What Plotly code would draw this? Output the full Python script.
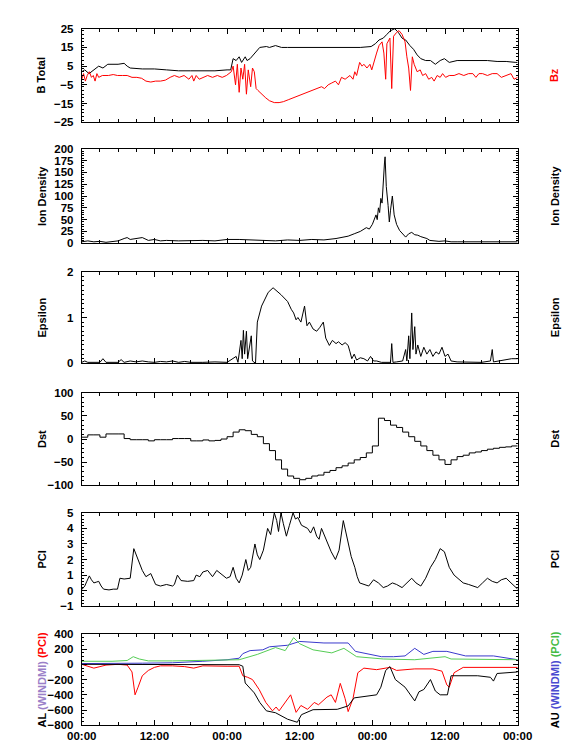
import plotly.graph_objects as go
import pandas as pd

START = pd.Timestamp("2000-01-01 00:00")
END = START + pd.Timedelta(hours=72)

# ---------------- Panel 1: B Total (black) and Bz (red) ----------------
bt_hours = [0, 0.5, 1.2, 2, 2.8, 3.5, 4.3, 6, 7, 7.5, 8, 10, 12, 14, 16, 18, 20, 22, 24, 24.6,
            25, 25.5, 26, 26.4, 27, 27.3, 27.8, 28.3, 28.8, 29.4, 30.5, 31, 32, 33, 34, 37, 42, 46,
            47.8, 48.5, 49.1, 49.8, 50.4, 51, 51.7, 52.3, 52.9, 53.5, 54.2, 54.8, 55.4, 56, 56.8,
            57.6, 58.4, 59.2, 59.9, 60.7, 62, 63.7, 65.4, 67, 68.6, 70.1, 71.7, 72]
bt_vals = [2, 3, 1, 3, 5, 4, 6, 6, 6.5, 5, 4, 3.5, 3.5, 3, 2.5, 2.5, 2.5, 2.5, 3, 3,
           9, 8, 10, 7, 10, 8, 9, 11, 13, 15, 15.5, 15, 16, 15, 15, 15, 15, 15,
           15.5, 17, 19, 20, 22, 24, 25, 23, 20, 19, 16, 14, 11, 9, 8,
           8, 6, 8, 9, 7, 8, 8, 8, 8, 7.5, 7.5, 7, 7]

bz_hours = [0, 0.3, 0.6, 0.9, 1.25, 1.6, 1.9, 2.2, 2.5, 2.8, 3.4, 4.4, 5.2, 5.9, 6.7, 7.5, 8.3,
            9.1, 9.9, 10.6, 11.4, 12.2, 13, 13.8, 14.6, 15.3, 16.1, 16.9, 17.7, 18.2, 18.5, 18.9,
            19.4, 20, 20.8, 21.6, 22.4, 23.2, 23.9, 24.7, 25, 25.4, 25.7, 26, 26.3, 26.6, 26.9,
            27.2, 27.5, 27.9, 28.2, 28.5, 28.8, 29.1, 29.7, 30.4, 31, 31.8, 32.6, 33.3, 34.1, 34.9,
            35.7, 36.5, 37.3, 38, 38.8, 39.6, 40.1, 40.7, 41.3, 41.9, 42.4, 42.9, 43.5, 44.3, 44.8,
            45.1, 45.4, 45.9, 46.3, 46.6, 47.1, 47.6, 47.9, 48.2, 48.7, 49.1, 49.6, 49.9, 50.2,
            50.4, 50.9, 51.2, 51.5, 52, 52.4, 52.9, 53.4, 53.7, 54, 54.3, 54.6, 54.9, 55.4, 55.9,
            56.3, 56.8, 57.3, 57.8, 58.2, 58.7, 59.2, 59.6, 60.1, 60.7, 61.5, 62.3, 63.1, 63.9,
            64.6, 65.1, 65.6, 66.2, 67, 67.8, 68.6, 69.3, 70.1, 70.9, 71.4, 72]
bz_vals = [-2, 1, -3, 0, 2, -1, 0, -3, 1, -1, 0, 0, 0.5, 0, 0, 0, -1,
           -1, -1.5, -3, -3.5, -3, -3, -2.5, -1, 0, -1, 0, -2, 0, -3, 0,
           -2, -1, 0, -1, 0, -1, 0, 2, 5, -5, 6, -9, 4, -2, 6,
           -10, 3, -6, 4, 2, -7, -8, -10, -12, -13.5, -14.5, -14.5, -14, -13, -12,
           -11, -10, -9, -8, -7, -6, -7, -5, -4, -3, -5, -1, -2, 0, -2,
           2, 0, 7, 5, 6, 4, 6, 3, 7, 12, 16, 18, 12, -2,
           17, 20, -7, 21, 23, 24, 22, 18, 10, 4, -8, 10, 6, 2, 3,
           0, 1, -2, -1, -3, 0, -1, 1, -1, 0, 0, 1, 0, 1,
           1, -1, 1, 1, 0, 1, 1, -1, 0, 1, -2, -1]

# ---------------- Panel 2: Ion Density ----------------
nd_hours = [0, 1, 2, 3, 4, 5, 6, 7, 7.5, 8, 9, 10, 11, 12, 13, 14, 16, 18, 20, 22, 24, 26, 28,
            30, 32, 34, 36, 38, 40, 42, 43, 44, 45, 46, 47, 47.5, 48, 48.6, 48.8, 49, 49.2, 49.4,
            49.6, 49.8, 50, 50.1, 50.3, 50.6, 50.8, 51, 51.3, 51.6, 52, 52.5, 53, 53.5, 54, 54.5,
            55, 55.5, 56, 57, 57.5, 58, 59, 60, 61, 62, 64, 66, 68, 70, 72]
nd_vals = [3, 5, 3, 4, 2, 4, 5, 10, 12, 8, 10, 12, 6, 8, 5, 6, 5, 6, 6, 5, 8, 8, 7,
           6, 5, 7, 6, 8, 7, 10, 12, 15, 20, 25, 33, 30, 40, 60, 50, 75, 65, 95,
           85, 140, 170, 183, 120, 80, 45, 70, 100, 60, 40, 27, 20, 13, 20, 23,
           18, 17, 14, 10, 6, 5, 4, 5, 3, 3, 3, 3, 3, 3, 3]

# ---------------- Panel 3: Epsilon ----------------
ep_hours = [0, 0.5, 1, 2, 3, 3.5, 4, 6, 6.5, 7, 8, 9, 10, 11, 12, 13, 14, 15, 16, 17, 18, 20,
            22, 24, 25.5, 25.8, 26.3, 26.5, 26.7, 26.9, 27.2, 27.4, 28, 28.2, 28.7, 29, 29.7,
            30.8, 31.6, 32.9, 33.5, 34, 34.6, 35, 35.4, 35.7, 36.2, 36.5, 36.8, 37.2, 37.6, 38.2,
            38.8, 39.3, 39.9, 40.3, 40.9, 41.4, 42, 42.4, 43, 43.5, 44, 44.3, 44.6, 45, 45.4, 46,
            46.6, 47.2, 47.7, 48.2, 48.7, 49.5, 50.5, 51, 51.2, 51.4, 52, 53, 53.5, 53.7, 54,
            54.2, 54.5, 54.7, 55, 55.2, 55.5, 56, 56.5, 57, 57.5, 58, 58.5, 59, 59.5, 60, 60.5,
            61, 62, 64, 66, 67.5, 67.8, 68, 69, 70, 71, 72]
ep_vals = [0.02, 0.05, 0.02, 0.02, 0.02, 0.1, 0.02, 0.02, 0.08, 0.02, 0.05, 0.03, 0.05, 0.03,
           0.02, 0.04, 0.03, 0.05, 0.02, 0.04, 0.02, 0.02, 0.03, 0.02, 0.15, 0.02, 0.5, 0.1,
           0.72, 0.2, 0.7, 0.1, 0.6, 0.05, 0.0, 0.9, 1.25, 1.55, 1.65, 1.5, 1.42, 1.35, 1.18,
           1.1, 0.95, 1.0, 0.9, 1.1, 1.25, 0.82, 0.9, 0.75, 0.7, 0.78, 0.9, 0.55, 0.39, 0.5,
           0.43, 0.47, 0.4, 0.45, 0.39, 0.25, 0.1, 0.2, 0.07, 0.12, 0.1, 0.05, 0.15, 0.05, 0.05,
           0.02, 0.02, 0.02, 0.43, 0.02, 0.03, 0.05, 0.3, 0.05, 0.6, 0.1, 1.1, 0.3, 0.8, 0.2,
           0.4, 0.15, 0.35, 0.2, 0.3, 0.15, 0.25, 0.2, 0.35, 0.15, 0.2, 0.05, 0.03, 0.02, 0.02,
           0.05, 0.3, 0.03, 0.05, 0.08, 0.1, 0.1]

# ---------------- Panel 4: Dst (hourly) ----------------
dst_hours = list(range(0, 73))
dst_vals = [4, 9, 9, 4, 11, 11, 11, 1, -1.5, -1.5, -1.5, -4, -1.5, -1.5, -1.5, 1, 1, 1, -4, -4,
            -2, -4, -3, 0, 5, 15, 20, 18, 10, 5, -10, -25, -45, -65, -80, -85, -88, -85, -80,
            -78, -72, -68, -62, -58, -52, -45, -40, -30, -15, 45, 40, 30, 25, 15, 5, -5, -15,
            -25, -35, -45, -55, -45, -38, -35, -30, -28, -25, -22, -20, -18, -17, -15, -15]

# ---------------- Panel 5: PCI ----------------
pci_hours = [0, 0.5, 0.8, 1.25, 1.6, 2, 2.4, 2.8, 3.2, 3.6, 4.5, 5.2, 5.9, 6.3, 7, 8, 8.6, 9, 9.5,
             10, 10.6, 11, 11.4, 12.2, 13, 14, 15, 15.3, 15.8, 16.4, 17.5, 18.5, 18.9, 19.5, 20,
             20.8, 21.6, 22.3, 22.9, 23.9, 24.5, 25, 25.5, 26, 26.5, 27.1, 27.5, 27.9, 28.6, 29,
             29.4, 30, 30.7, 31.2, 31.8, 32.2, 32.5, 32.9, 33.3, 33.8, 34.3, 34.9, 35.3, 35.7,
             36.3, 37.3, 37.8, 38.3, 38.8, 39.2, 39.6, 40.2, 40.7, 41.2, 41.9, 42.5, 43.2, 43.6,
             44, 44.5, 45.1, 45.5, 45.9, 46.6, 47.4, 48.2, 49, 49.8, 50.5, 51.3, 52, 52.9, 53.7,
             54.5, 55.2, 56, 56.8, 57.6, 58.4, 59.2, 59.9, 60.7, 61.5, 62.3, 63, 63.9, 64.6, 65.4,
             66.2, 67, 67.8, 68.6, 69.3, 70.1, 70.9, 71.7, 72]
pci_vals = [0.07, 0.3, 0.57, 0.95, 0.7, 0.5, 0.55, 0.6, 0.3, 0.1, 0.05, 0.1, 0.1, 0.8, 0.75, 0.8,
            2.7, 2.3, 1.8, 1.3, 0.9, 1.0, 1.1, 0.4, 0.3, 0.4, 0.3, 0.4, 1.0, 0.65, 0.6, 0.65, 1.0,
            0.9, 1.2, 1.3, 0.9, 1.3, 1.1, 0.8, 0.9, 1.5, 0.8, 0.5, 1.0, 2.0, 1.3, 1.5, 3.0, 2.3,
            2.0, 2.6, 4.0, 3.6, 5.0, 4.5, 3.8, 5.0, 4.3, 3.5, 4.2, 5.0, 4.6, 4.7, 4.2, 4.0, 3.7,
            4.1, 3.5, 3.3, 4.0, 3.4, 3.0, 2.5, 2.0, 2.6, 4.5, 3.8, 3.0, 2.2, 1.5, 0.9, 0.5, 0.4,
            0.3, 0.7, 0.5, 0.2, 0.3, 0.5, 0.4, 0.2, 0.5, 0.8, 0.5, 0.3, 0.8, 1.5, 2.0, 2.7, 2.5,
            1.5, 1.0, 0.7, 0.5, 0.4, 0.3, 0.2, 0.5, 0.8, 0.6, 0.5, 0.7, 0.8, 0.5, 0.2, 0.1]

# ---------------- Panel 6: AL / AU ----------------
al_hours = [0, 10, 20, 24, 26, 26.6, 27, 28.5, 29.4, 30.5, 32, 34, 35.6, 36.3, 38.2, 42.2, 44, 45,
            48.7, 49.4, 50.2, 50.9, 51.8, 53.4, 55, 55.7, 56.5, 57.6, 58.4, 59.2, 60.4, 61, 62.8,
            65.4, 67.5, 68, 68.6, 72]
al_vals = [0, 0, 0, 0, -5, -25, -245, -375, -500, -610, -635, -720, -760, -660, -595, -590, -545,
           -440, -400, -300, -80, -30, -200, -300, -480, -360, -330, -200, -350, -400, -400, -150,
           -150, -150, -170, -220, -120, -100]

al_pci_hours = [0, 1, 2, 3, 4, 6, 7.5, 8.3, 8.8, 9.3, 10, 11, 12, 13, 15, 17, 18.5, 20, 22, 24,
                26, 26.6, 27.4, 28.2, 29.3, 30.4, 31.5, 32.1, 32.6, 33.6, 34.5, 35.4, 36.2,
                37.3, 38.4, 39.1, 39.9, 40.5, 41.2, 41.9, 42.7, 43.5, 44, 44.8, 45.6, 46.6, 48.7,
                50.9, 52, 55, 58, 59.5, 60.3, 60.7, 61.5, 63, 72]
al_pci_vals = [0, -20, -50, -30, -10, 0, -10, -100, -400, -300, -150, -80, -40, -20, -20, -30,
               -50, -20, -25, -25, -25, -150, -170, -200, -330, -500, -610, -560, -610, -500,
               -400, -630, -540, -590, -500, -530, -470, -430, -400, -500, -250, -450, -620,
               -450, -110, -50, -70, -40, -80, -60, -60, -90, -270, -300, -110, -40, -40]

au_windmi_hours = [0, 5, 10, 15, 18, 20, 24, 26, 26.6, 27.8, 29.9, 31, 34, 36, 40, 44, 45.2, 47.4,
                   49.5, 51.5, 53.4, 55, 56.5, 58, 60.3, 63.4, 68, 72]
au_windmi_vals = [10, 10, 15, 20, 30, 40, 60, 80, 140, 180, 190, 230, 250, 300, 280, 280, 170,
                  130, 100, 100, 110, 210, 130, 170, 170, 110, 110, 60]

au_pci_hours = [0, 5, 7.5, 8.5, 9.5, 11, 15, 20, 24, 26, 29, 32, 33.6, 35, 36, 38.2, 41.3, 43.3,
                45.4, 49.8, 55, 60, 61, 72]
au_pci_vals = [40, 40, 50, 100, 70, 45, 45, 50, 60, 60, 130, 220, 180, 350, 270, 190, 150, 210,
               100, 70, 60, 100, 70, 60]

# ---------------- Axis settings ----------------
panel_ranges = [[-25, 25], [0, 200], [0, 2], [-100, 100], [-1, 5], [-800, 400]]
panel_dticks = [10, 25, 1, 50, 1, 200]
panel_minor = [2, 5, 0.1, 10, 0.2, 50]
panel_tick0 = [-25, 0, 0, -100, -1, -800]


def tt(hours):
    return [START + pd.Timedelta(hours=h) for h in hours]


W, H = 573, 743
X0, X1 = 62, 522
panel_px = [(15, 110), (137, 233), (262, 355), (385, 479), (507, 602), (630, 723)]

BLACK = "#000000"
RED = "#ff0000"
BLUE = "#3a3acc"
GREEN = "#55cc55"
FONT = "Liberation Sans, Arial, Helvetica, sans-serif"

fig = go.Figure()


def add(hours, vals, row, color, shape="linear", width=1):
    fig.add_trace(go.Scatter(x=tt(hours), y=vals, mode="lines", line=dict(color=color, width=width, shape=shape),
                             xaxis="x" if row == 1 else f"x{row}", yaxis="y" if row == 1 else f"y{row}",
                             showlegend=False, hoverinfo="skip"))


add(bt_hours, bt_vals, 1, BLACK)
add(bz_hours, bz_vals, 1, RED)
add(nd_hours, nd_vals, 2, BLACK)
add(ep_hours, ep_vals, 3, BLACK)
add(dst_hours, dst_vals, 4, BLACK, shape="hv")
add(pci_hours, pci_vals, 5, BLACK)
add(au_windmi_hours, au_windmi_vals, 6, BLUE)
add(au_pci_hours, au_pci_vals, 6, GREEN)
add(al_pci_hours, al_pci_vals, 6, RED)
add(al_hours, al_vals, 6, BLACK)

layout = dict(width=W, height=H, margin=dict(l=0, r=0, t=0, b=0), paper_bgcolor="white",
              plot_bgcolor="white", font=dict(family=FONT, color="black"), showlegend=False)

tickfont = dict(family=FONT, size=11.5, color="black", weight="bold")
for i in range(6):
    r = i + 1
    top, bot = panel_px[i]
    ydom = [1 - bot / H, 1 - top / H]
    xname = "xaxis" if r == 1 else f"xaxis{r}"
    yname = "yaxis" if r == 1 else f"yaxis{r}"
    yid = "y" if r == 1 else f"y{r}"
    xid = "x" if r == 1 else f"x{r}"
    layout[xname] = dict(domain=[X0 / W, X1 / W], anchor=yid, range=[START, END], type="date",
                         tick0=START, dtick=12 * 3600 * 1000, tickformat="%H:%M",
                         ticks="inside", ticklen=5, tickcolor="black", tickwidth=1,
                         minor=dict(dtick=3 * 3600 * 1000, ticks="inside", ticklen=3, tickcolor="black"),
                         showline=True, linecolor="black", linewidth=1, mirror="allticks",
                         showgrid=False, zeroline=False, showticklabels=(r == 6),
                         tickfont=tickfont, ticklabelstandoff=0,
                         matches=None if r == 1 else "x")
    layout[yname] = dict(domain=ydom, anchor=xid, range=panel_ranges[i], tick0=panel_tick0[i],
                         dtick=panel_dticks[i], ticks="inside", ticklen=5, tickcolor="black",
                         minor=dict(dtick=panel_minor[i], ticks="inside", ticklen=2, tickcolor="black"),
                         showline=True, linecolor="black", linewidth=1, mirror="allticks",
                         showgrid=False, zeroline=False, tickfont=tickfont, ticklabelstandoff=5)
    rname = f"yaxis{r + 6}"
    layout[rname] = dict(overlaying=yid, side="right", anchor=xid, range=panel_ranges[i],
                         tick0=panel_tick0[i], dtick=panel_dticks[i], ticks="", showline=False,
                         showgrid=False, zeroline=False, tickfont=tickfont, ticklabelstandoff=5)

fig.update_layout(**layout)

left_titles = ["B Total", "Ion Density", "Epsilon", "Dst", "PCI",
               'AL <span style="color:#9a80c8">(WINDMI)</span> <span style="color:#ff0000">(PCI)</span>']
right_titles = ['<span style="color:#ff0000">Bz</span>', "Ion Density", "Epsilon", "Dst", "PCI",
                'AU <span style="color:#4a4ad0">(WINDMI)</span> <span style="color:#44bb44">(PCI)</span>']
for i in range(6):
    top, bot = panel_px[i]
    yc = 1 - ((top + bot) / 2) / H
    fig.add_annotation(text=left_titles[i], x=20 / W, y=yc, xref="paper", yref="paper",
                       textangle=-90, showarrow=False, xanchor="center", yanchor="middle",
                       font=dict(family=FONT, size=11, color="black", weight="bold"))
    fig.add_annotation(text=right_titles[i], x=561 / W, y=yc, xref="paper", yref="paper",
                       textangle=-90, showarrow=False, xanchor="center", yanchor="middle",
                       font=dict(family=FONT, size=11, color="black", weight="bold"))

fig.write_html("out.html")
